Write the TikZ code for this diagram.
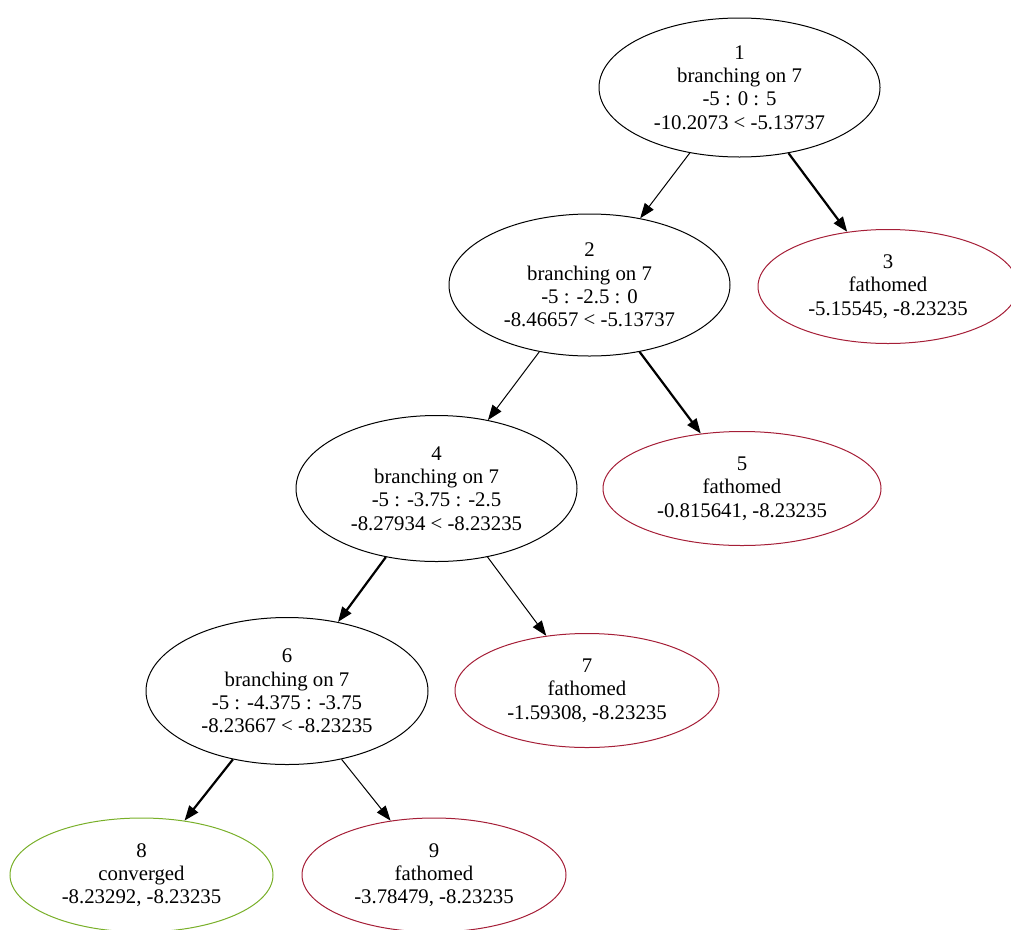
\documentclass[tikz,border=0pt]{standalone}
\usepackage{fontspec}
\setmainfont{Liberation Serif}
\usetikzlibrary{shapes.geometric,arrows.meta}
\definecolor{fathomred}{RGB}{165,30,55}
\definecolor{convgreen}{RGB}{120,175,40}
\begin{document}
\begin{tikzpicture}[x=1pt,y=-1pt,
  tnode/.style={ellipse, draw, line width=1pt, inner sep=0pt, align=center,
     font=\fontsize{20.8}{23.3}\selectfont},
  branchnode/.style={tnode, black, minimum width=281pt, minimum height=142pt},
  leafnode/.style={tnode, minimum width=264pt, minimum height=114pt},
  fath/.style={leafnode, draw=fathomred},
  conv/.style={leafnode, draw=convgreen},
  thin edge/.style={line width=1pt, -{Triangle[length=15pt,width=11pt]}},
  thick edge/.style={line width=2.2pt, -{Triangle[length=15pt,width=11pt]}}
]
\useasboundingbox (0,0) rectangle (1011,929);
\clip (0,0) rectangle (1011,929);
\node[branchnode, minimum height=139pt] (n1) at (739.5,87.5) {1\\branching on 7\\-5 : 0 : 5\\-10.2073 < -5.13737};
\node[branchnode] (n2) at (589.5,285) {2\\branching on 7\\-5 : -2.5 : 0\\-8.46657 < -5.13737};
\node[fath, minimum width=260pt] (n3) at (888,286.5) {3\\fathomed\\-5.15545, -8.23235};
\node[branchnode, minimum height=146pt] (n4) at (436.5,488.5) {4\\branching on 7\\-5 : -3.75 : -2.5\\-8.27934 < -8.23235};
\node[fath, minimum width=278pt] (n5) at (742,488.5) {5\\fathomed\\-0.815641, -8.23235};
\node[branchnode, minimum width=282pt, minimum height=147pt] (n6) at (287,691) {6\\branching on 7\\-5 : -4.375 : -3.75\\-8.23667 < -8.23235};
\node[fath] (n7) at (587,690.5) {7\\fathomed\\-1.59308, -8.23235};
\node[conv, minimum width=263pt] (n8) at (141.5,875) {8\\converged\\-8.23292, -8.23235};
\node[fath] (n9) at (434,875) {9\\fathomed\\-3.78479, -8.23235};
\draw[thin edge] (n1) -- (n2);
\draw[thick edge] (n1) -- (n3);
\draw[thin edge] (n2) -- (n4);
\draw[thick edge] (n2) -- (n5);
\draw[thick edge] (n4) -- (n6);
\draw[thin edge] (n4) -- (n7);
\draw[thick edge] (n6) -- (n8);
\draw[thin edge] (n6) -- (n9);
\end{tikzpicture}
\end{document}
